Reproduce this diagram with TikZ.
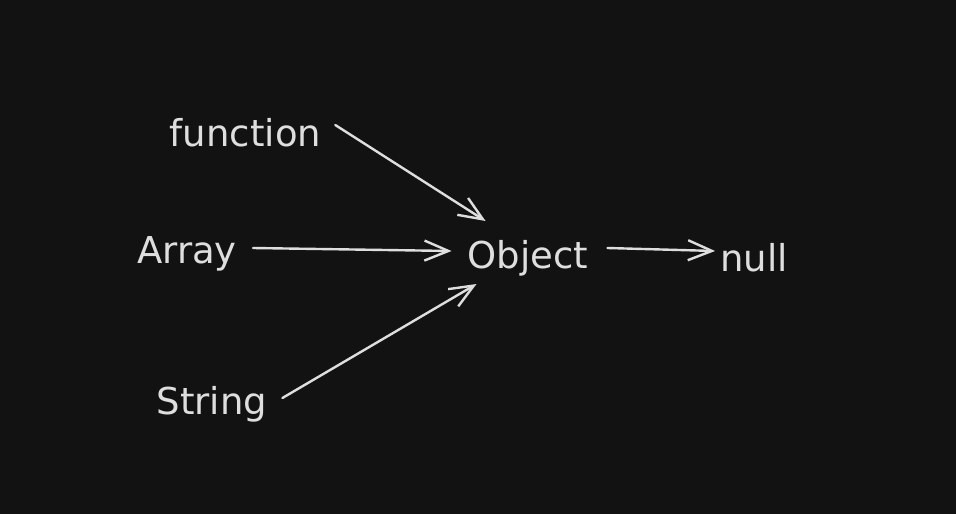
\documentclass[tikz,border=0pt]{standalone}
\usepackage{fontspec}
\setmainfont{DejaVu Sans}
\usetikzlibrary{arrows.meta}
\definecolor{bgcol}{HTML}{121212}
\definecolor{inkcol}{HTML}{DEDEDE}
\tikzset{
  word/.style={inner sep=0pt, anchor=base, text=inkcol, font=\fontsize{37}{40}\selectfont},
  link/.style={draw=inkcol, line width=2.4pt, line cap=round,
    -{Straight Barb[length=24pt,width=20pt,line width=2.4pt]}}
}
\begin{document}
\begin{tikzpicture}[x=1pt,y=-1pt]
\fill[bgcol] (0,0) rectangle (956,514);
\node[word] (fn) at (245.5,146) {function};
\node[word] (arr) at (187,263) {Array};
\node[word] (str) at (212,414) {String};
\node[word] (obj) at (528,268) {Object};
\node[word] (nul) at (754,271) {null};
\draw[link] ([xshift=14pt,yshift=21pt]fn.base east) -- ([xshift=18pt,yshift=47pt]obj.base west);
\draw[link] ([xshift=16pt,yshift=15pt]arr.base east) -- ([xshift=-16pt,yshift=17pt]obj.base west);
\draw[link] ([xshift=15pt,yshift=16pt]str.base east) -- ([xshift=9pt,yshift=-16pt]obj.base west);
\draw[link] ([xshift=19pt,yshift=20pt]obj.base east) -- ([xshift=-5pt,yshift=20pt]nul.base west);
\end{tikzpicture}
\end{document}
